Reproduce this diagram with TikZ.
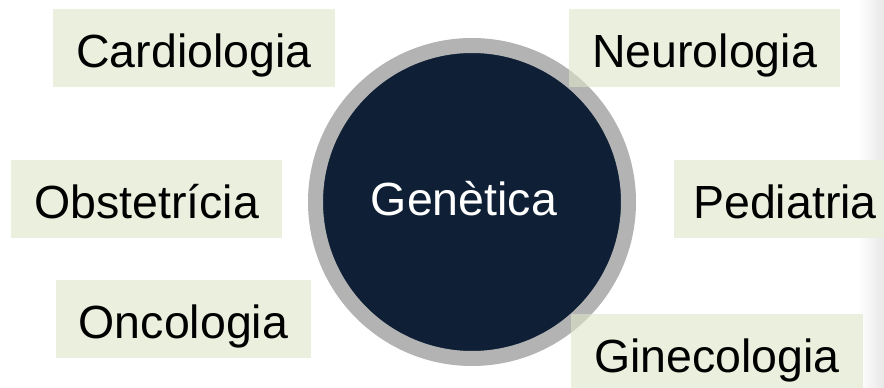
\documentclass[tikz,border=0pt]{standalone}
\usepackage{fontspec}
\setmainfont{Liberation Sans}
\definecolor{boxfill}{RGB}{222,229,200}
\definecolor{navy}{RGB}{15,32,54}
\definecolor{ringgray}{RGB}{179,179,179}
\tikzset{
  lbl/.style={fill=boxfill, fill opacity=0.6, text opacity=1, inner sep=0pt,
    minimum height=78pt, text height=38pt, text depth=0pt,
    font=\fontsize{46.5}{50}\selectfont},
}
\begin{document}
\begin{tikzpicture}[x=1pt,y=-1pt]
\useasboundingbox (0,0) rectangle (884,388);
\clip (0,0) rectangle (884,388);
\shade[left color=white, right color=black!9] (858,0) rectangle (884,388);
\node[circle, fill=navy, draw=ringgray, line width=15pt, minimum size=313pt, inner sep=0pt] (gen) at (472,202) {};
\node[anchor=base, text=white, font=\fontsize{46.5}{50}\selectfont] (gentxt) at (464,215) {Genètica};
\node[lbl, minimum width=282pt] (card) at (194,48) {Cardiologia};
\node[lbl, minimum width=271pt] (neuro) at (704.5,48) {Neurologia};
\node[lbl, minimum width=271pt] (obst) at (146.5,199) {Obstetrícia};
\node[lbl, fill opacity=1, minimum width=223pt, fill=boxfill!60!white] (ped) at (785,199) {Pediatria};
\node[lbl, minimum width=255pt] (onco) at (183.5,319) {Oncologia};
\node[lbl, minimum width=292pt] (gine) at (717,353) {Ginecologia};
\end{tikzpicture}
\end{document}
